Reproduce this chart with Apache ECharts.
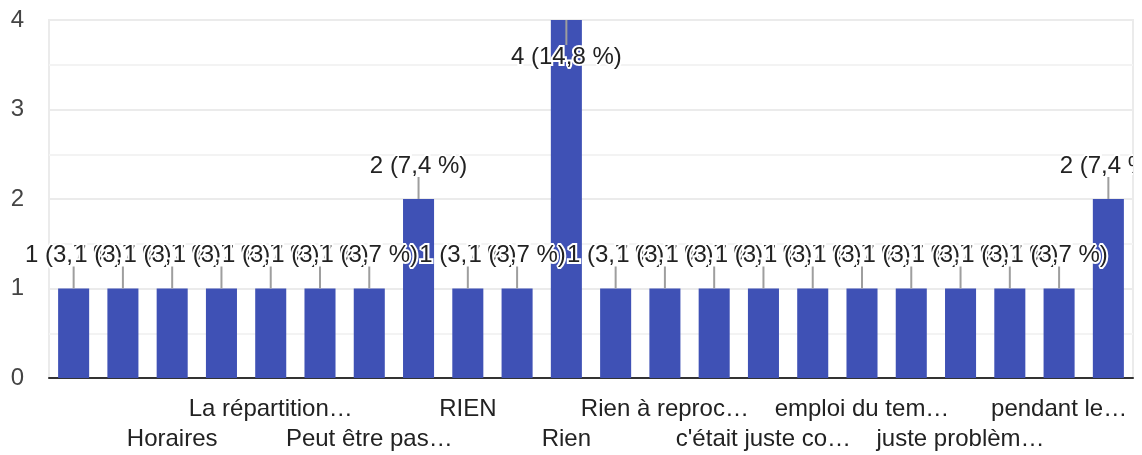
<!DOCTYPE html>
<html>
<head>
<meta charset="utf-8">
<script src="https://cdn.jsdelivr.net/npm/echarts@6/dist/echarts.min.js"></script>
<style>
  html, body { margin: 0; padding: 0; background: #fff; }
  #chart { width: 1142px; height: 455px; }
</style>
</head>
<body>
<div id="chart"></div>
<script>
// réponses (libellés tels qu'affichés, les autres sont masqués par l'axe)
const categories = [
  'Rien de spécial', 'Non', 'Horaires', 'Aucun', 'La répartition…', 'RAS',
  'Peut être pas…', 'Les pauses', 'RIEN', 'Rien du tout', 'Rien', 'Pas grand chose',
  'Rien à reproc…', 'Non rien', 'c\'était juste co…', 'La durée', 'emploi du tem…', 'Le rythme',
  'juste problèm…', 'Trop long', 'pendant le…', 'Les horaires'
];
const counts = [1, 1, 1, 1, 1, 1, 1, 2, 1, 1, 4, 1, 1, 1, 1, 1, 1, 1, 1, 1, 1, 2];
const yTicks = [0, 1, 2, 3, 4];

const total = counts.reduce((a, b) => a + b, 0);
const fontFamily = '"Liberation Sans", Arial, sans-serif';
const fontSize = 24;
const barColor = '#3f51b5';

// texte du type "1 (3,7 %)"
const labelText = (v) => v + ' (' + (v / total * 100).toFixed(1).replace('.', ',') + ' %)';

const chart = echarts.init(document.getElementById('chart'));

// étiquette + trait de rappel au-dessus de chaque barre
const renderLabel = (params, api) => {
  const idx = api.value(0);
  const val = api.value(1);
  const top = api.coord([idx, val]);
  const cs = params.coordSys;
  let lineEnd = top[1] - 22;
  let textY = top[1] - 33;
  if (textY - 12 < cs.y) {
    // pas de place au-dessus : on place l'étiquette dans la barre
    lineEnd = top[1] + 25;
    textY = top[1] + 37;
  }
  return {
    type: 'group',
    clipPath: {
      type: 'rect',
      shape: { x: 0, y: 0, width: cs.x + cs.width, height: cs.y + cs.height + 10 }
    },
    children: [
      {
        type: 'line',
        shape: { x1: top[0], y1: top[1], x2: top[0], y2: lineEnd },
        style: { stroke: '#9e9e9e', lineWidth: 2 }
      },
      {
        type: 'text',
        style: {
          text: labelText(val),
          x: top[0],
          y: textY,
          align: 'center',
          verticalAlign: 'middle',
          font: fontSize + 'px ' + fontFamily,
          fill: '#222',
          stroke: '#fff',
          lineWidth: 4
        }
      }
    ]
  };
};

// deux rangées de libellés : une catégorie sur deux, en alternance
const rowAxis = (row, margin) => ({
  type: 'category',
  data: categories,
  position: 'bottom',
  axisLine: { show: row === 0, lineStyle: { color: '#333', width: 2 } },
  axisTick: { show: false },
  splitLine: { show: false },
  axisLabel: {
    interval: (i) => i > 0 && i % 4 === (row === 0 ? 0 : 2),
    hideOverlap: false,
    fontSize: fontSize,
    color: '#222',
    fontFamily: fontFamily,
    margin: margin
  }
});

const option = {
  backgroundColor: '#fff',
  animation: false,
  grid: {
    left: 49,
    right: 9,
    top: 20,
    bottom: 77,
    show: true,
    borderColor: '#ebebeb',
    borderWidth: 2
  },
  xAxis: [rowAxis(0, 19), rowAxis(1, 49)],
  yAxis: {
    type: 'value',
    min: yTicks[0],
    max: yTicks[yTicks.length - 1],
    interval: 1,
    axisLine: { show: false },
    axisTick: { show: false },
    axisLabel: {
      fontSize: fontSize,
      color: '#444',
      fontFamily: fontFamily,
      margin: 25,
      padding: [4, 0, 0, 0]
    },
    splitLine: { lineStyle: { color: '#ebebeb', width: 2 } },
    minorTick: { show: false, splitNumber: 2 },
    minorSplitLine: { show: true, lineStyle: { color: '#f3f3f3', width: 2 } }
  },
  series: [
    {
      type: 'bar',
      data: counts,
      barCategoryGap: '37%',
      itemStyle: { color: barColor },
      z: 2
    },
    {
      type: 'custom',
      data: counts.map((v, i) => [i, v]),
      encode: { x: 0, y: 1 },
      renderItem: renderLabel,
      z: 5,
      silent: true
    }
  ]
};

chart.setOption(option);
</script>
</body>
</html>
